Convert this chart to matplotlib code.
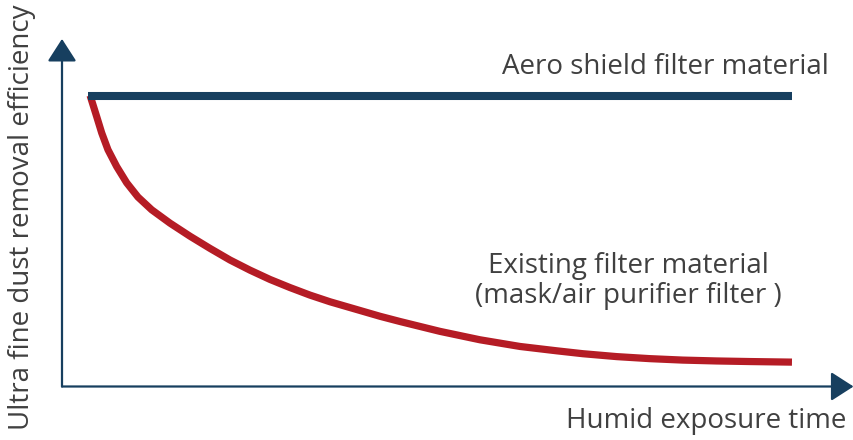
import matplotlib
matplotlib.use("Agg")
import matplotlib.pyplot as plt

# humid exposure time (arbitrary units) and removal efficiency (%)
aero_time = [0.0, 10.0]
aero_eff = [100.0, 100.0]

existing_time = [0.03, 0.124, 0.195, 0.284, 0.408, 0.55, 0.71, 0.905,
                 1.165, 1.449, 1.733, 2.017, 2.301, 2.585, 2.869, 3.153,
                 3.438, 3.722, 4.148, 4.432, 5.0, 5.568, 6.136, 6.658, 7.03,
                 7.51, 7.98, 8.45, 8.93, 9.40, 10.0]
existing_eff = [100.3, 93.0, 87.4, 81.6, 75.8, 70.2, 65.3, 60.9,
                56.3, 51.8, 47.6, 43.6, 40.1, 36.9, 34.1, 31.5,
                29.2, 27.2, 24.2, 22.4, 19.0, 16.1, 13.8, 12.3, 11.3,
                10.3, 9.6, 9.1, 8.8, 8.6, 8.4]

labels = {
    "aero": "Aero shield filter material",
    "existing": "Existing filter material\n(mask/air purifier filter )",
    "x": "Humid exposure time",
    "y": "Ultra fine dust removal efficiency",
}

navy = "#173f5f"
red = "#b51c25"
grey = "#404040"

plt.rcParams['font.family'] = ['Open Sans', 'DejaVu Sans']

fig = plt.figure(figsize=(8.54, 4.4), dpi=100)
ax = fig.add_axes([0.0726, 0.1216, 0.925, 0.79])

ax.plot(existing_time, existing_eff, color=red, lw=5.2,
        solid_capstyle='butt', solid_joinstyle='round', clip_on=False)
ax.plot(aero_time, aero_eff, color=navy, lw=5.8,
        solid_capstyle='butt', clip_on=False)

ax.set_xlim(-0.369, 10.852)
ax.set_ylim(0, 119.8)
ax.set_xticks([])
ax.set_yticks([])
for s in ax.spines.values():
    s.set_visible(False)

arrow = dict(arrowstyle='-|>,head_length=0.7,head_width=0.45',
             mutation_scale=20, color=navy, lw=1.6, shrinkA=0, shrinkB=0)
ax.annotate('', xy=(0, 1), xytext=(0, 0), xycoords='axes fraction',
            arrowprops=arrow)
ax.annotate('', xy=(1.002, 0), xytext=(0, 0), xycoords='axes fraction',
            arrowprops=arrow)

fs = 20
fig.text(665 / 854, 1 - 67 / 440, labels["aero"], fontsize=fs, color=grey,
         ha='center', va='center')
fig.text(628 / 854, 1 - 281 / 440, labels["existing"], fontsize=fs, color=grey,
         ha='center', va='center', linespacing=1.1)
fig.text(846 / 854, 1 - 421 / 440, labels["x"], fontsize=fs, color=grey,
         ha='right', va='center')
fig.text(22 / 854, 1 - 217 / 440, labels["y"], fontsize=fs, color=grey,
         ha='center', va='center', rotation=90)

fig.savefig("out.png", dpi=100)
